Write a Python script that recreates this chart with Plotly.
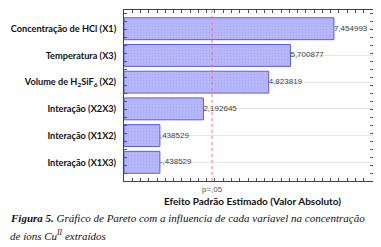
import plotly.graph_objects as go

categories = ["Concentração de HCl (X1)", "Temperatura (X3)", "Volume de H<sub>2</sub>SiF<sub>6</sub> (X2)",
              "Interação (X2X3)", "Interação (X1X2)", "Interação (X1X3)"]
effects = [7.454993, 5.700877, 4.823819, 2.192645, 0.438529, -0.438529]
p_crit = 2.54
x_min, x_max = -1.01, 9.03

def fmt(v):
    s = f"{abs(v):.6f}".replace(".", ",")
    if s.startswith("0"):
        s = s[1:]
    return ("-" if v < 0 else "") + s

absvals = [abs(v) for v in effects]
labels = [fmt(v) for v in effects]

# page body has an 8px margin, so the figure is laid out 8px up/left of screen pixels
L, T, PW, PH = 116, 2, 249, 171
W, H = 373, 239

fig = go.Figure()
fig.add_trace(go.Bar(
    y=categories, x=[a - x_min for a in absvals], base=x_min, orientation="h",
    marker=dict(color="#b2b2fa", line=dict(color="#5c5cf0", width=1),
                pattern=dict(shape=".", size=3, solidity=0.15, fgcolor="#9c9cf4", bgcolor="#b6b6fa")),
    width=0.82, hoverinfo="skip", showlegend=False,
))
fig.add_trace(go.Scatter(
    y=categories, x=absvals, mode="text", text=labels, textposition="middle right",
    textfont=dict(family="Liberation Sans", size=8, color="#444444"),
    showlegend=False, hoverinfo="skip", cliponaxis=False,
))
fig.add_trace(go.Scatter(x=[x_min], y=[0], yaxis="y2", mode="markers",
                         marker=dict(opacity=0), showlegend=False, hoverinfo="skip"))

fig.add_shape(type="line", x0=p_crit, x1=p_crit, xref="x", y0=0, y1=1, yref="paper",
              line=dict(color="#f07878", width=1, dash="dot"))

fig.add_annotation(x=p_crit, y=0, xref="x", yref="paper", yanchor="middle", text="p=,05", showarrow=False,
                   yshift=-8, font=dict(family="Liberation Sans", size=8, color="#555555"))
fig.add_annotation(x=0.5, y=0, xref="paper", yref="paper", yanchor="middle",
                   text="<b>Efeito Padrão Estimado (Valor Absoluto)</b>",
                   showarrow=False, yshift=-20, xshift=4,
                   font=dict(family="Lato", size=10, color="#111111"))
fig.add_annotation(x=-L / PW, y=0, xref="paper", yref="paper", xanchor="left", yanchor="middle", align="left",
                   text="<b><i>Figura 5.</i></b><i> Gráfico de Pareto com a influencia de cada variavel na concentração</i>",
                   showarrow=False, yshift=-37, font=dict(family="Liberation Serif", size=11, color="#111111"))
fig.add_annotation(x=-L / PW, y=0, xref="paper", yref="paper", xanchor="left", yanchor="middle", align="left",
                   text="<i>de íons Cu<sup>II</sup> extraídos</i>",
                   showarrow=False, yshift=-54, font=dict(family="Liberation Serif", size=11, color="#111111"))

fig.update_layout(
    width=W, height=H, margin=dict(l=L, r=W - L - PW, t=T, b=H - T - PH, autoexpand=False),
    paper_bgcolor="white", plot_bgcolor="white", bargap=0.18,
    xaxis=dict(range=[x_min, x_max], showgrid=False, zeroline=False, showticklabels=False,
               ticks="inside", ticklen=3, tickcolor="#555555", dtick=1/3, tick0=x_min,
               showline=True, linecolor="#444444", linewidth=1, mirror="ticks", automargin=False),
    yaxis=dict(range=[5.7, -0.7], showgrid=True, gridcolor="#e6e6e6", gridwidth=1,
               showline=True, linecolor="#444444", linewidth=1, mirror=True, ticks="",
               ticklabelstandoff=5, automargin=False,
               tickfont=dict(family="Lato", size=9.2, color="#111111"), tickprefix="<b>", ticksuffix="</b>"),
    yaxis2=dict(overlaying="y", side="left", range=[0, 1], dtick=8/171, showticklabels=False,
                ticks="inside", ticklen=3, tickcolor="#555555", showgrid=False, zeroline=False,
                showline=False, mirror="ticks", automargin=False),
)
fig.write_html("out.html")
